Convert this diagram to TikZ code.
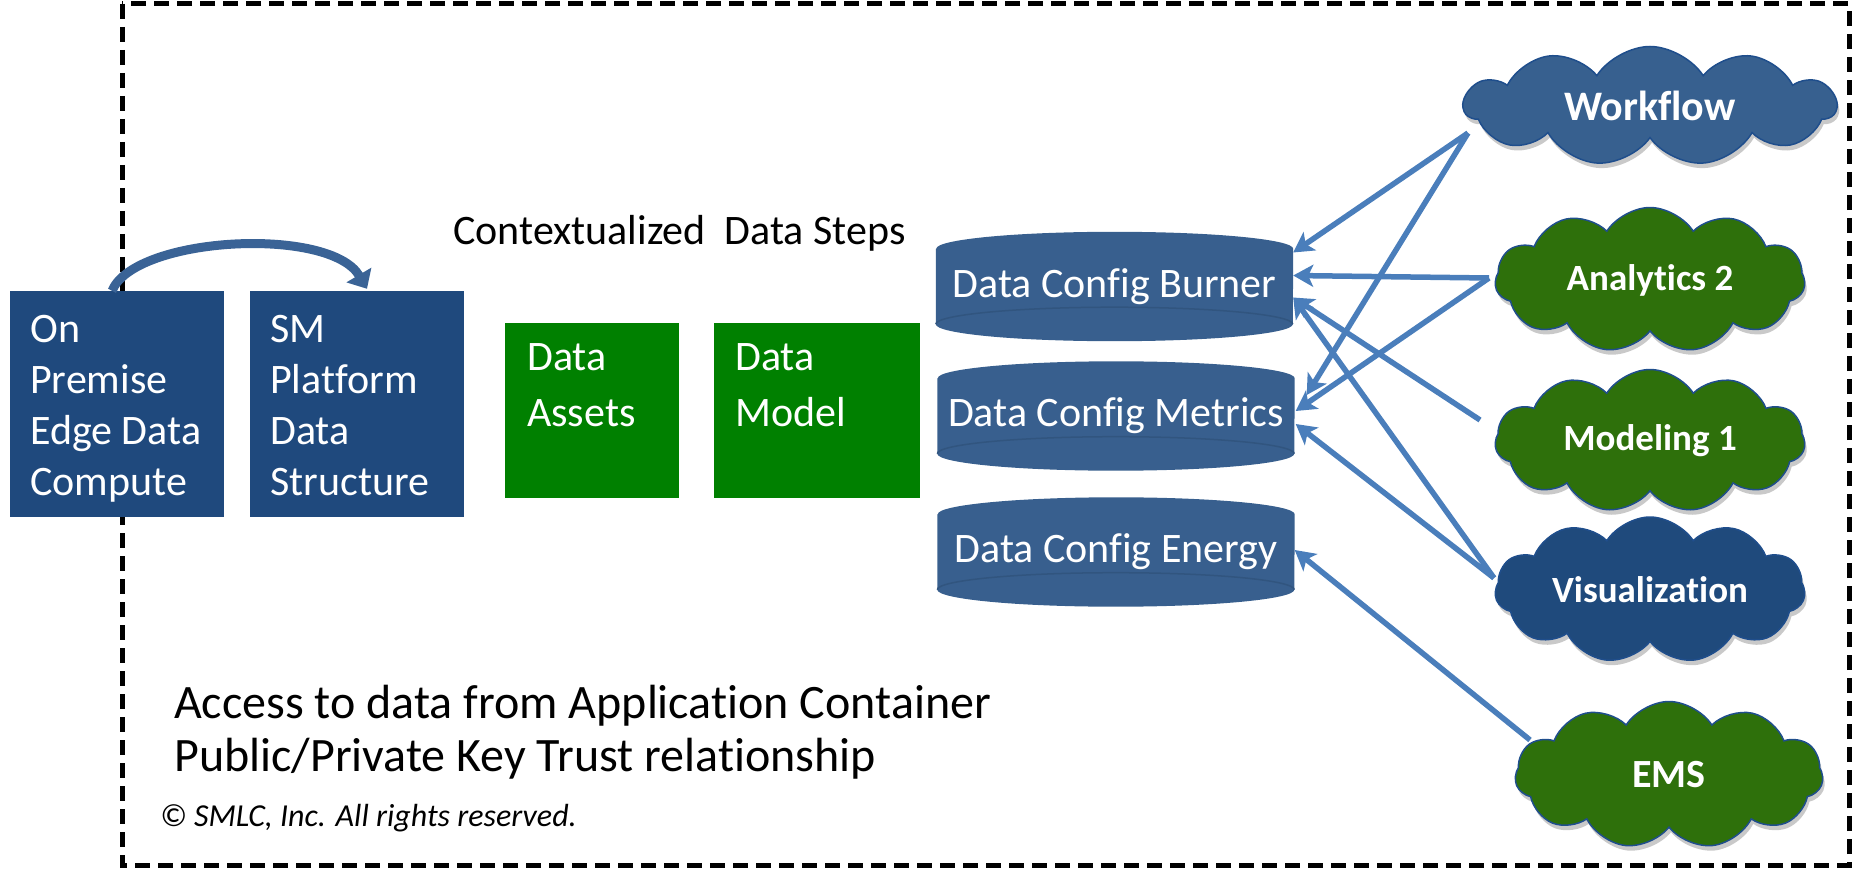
\documentclass[tikz,border=0pt]{standalone}
\usepackage{fontspec}
\setmainfont{Carlito}[Ligatures=CommonOff]
\usetikzlibrary{shapes.symbols,shadows,arrows.meta,calc,backgrounds}
\definecolor{boxblue}{HTML}{1F497D}
\definecolor{cylblue}{HTML}{385F8E}
\definecolor{cylrim}{HTML}{31557F}
\definecolor{cloudblue}{HTML}{37608F}
\definecolor{visblue}{HTML}{1F4A7C}
\definecolor{cloudgreen}{HTML}{2E700B}
\definecolor{cloudedge}{HTML}{1F4E8C}
\definecolor{arrowblue}{HTML}{4A7EBB}
\definecolor{curveblue}{HTML}{3A6396}
\definecolor{boxgreen}{HTML}{008000}
\newcommand\fstrut{\rule{0pt}{32pt}}
\newcommand\gstrut{\rule{0pt}{36pt}}
\newcommand\drawcyl[1]{%
  \fill[cylblue] ($(#1.north west)+(0,17)$) -- ($(#1.south west)+(0,-17)$)
    arc[start angle=180,end angle=0,x radius=178.5,y radius=17]
    -- ($(#1.north east)+(0,17)$)
    arc[start angle=0,end angle=-180,x radius=178.5,y radius=17] -- cycle;
  \draw[cylrim, line width=1.5pt] ($(#1.south west)+(0,-17)$)
    arc[start angle=180,end angle=360,x radius=178.5,y radius=17];}
\begin{document}
\begin{tikzpicture}[x=1pt,y=-1pt,
  bluebox/.style={fill=boxblue, draw=none, minimum width=214pt, minimum height=226pt, inner sep=0pt},
  greenbox/.style={fill=boxgreen, draw=none, minimum height=175pt, inner sep=0pt},
  boxtext/.style={anchor=north west, inner sep=0pt, align=left, text=white, font=\fontsize{42}{51}\selectfont},
  gboxtext/.style={anchor=north west, inner sep=0pt, align=left, text=white, font=\fontsize{42}{56}\selectfont},
  cyl/.style={minimum width=357pt, minimum height=109pt, inner sep=0pt, text=white, font=\fontsize{42}{50}\selectfont},
  cloudnode/.style={cloud, cloud puffs=11, cloud puff arc=115, cloud ignores aspect, draw=cloudedge, line width=1.5pt,
     text=white, inner sep=0pt,
     drop shadow={shadow xshift=2pt, shadow yshift=-5pt, opacity=0.3, fill=black!70}},
  conn/.style={draw=arrowblue, line width=5.5pt, -{Stealth[length=20pt,width=22pt,inset=5pt]}},
  curvearrow/.style={draw=curveblue, line width=9pt, -{Triangle[length=16pt,width=28pt]}},
  border/.style={draw=black, line width=5pt, dash pattern=on 15pt off 8pt}
]
\useasboundingbox (0,0) rectangle (1856,869);
\draw[border] (122,4) rectangle (1849,865);

% left blue boxes
\node[bluebox] (onprem) at (117,404) {};
\node[bluebox] (smplat) at (357,404) {};
\node[boxtext] (onpremtxt) at (30,310) {\fstrut On\\Premise\\Edge Data\\Compute};
\node[boxtext] (smplattxt) at (270,310) {\fstrut SM\\Platform\\Data\\Structure};
\draw[curvearrow] ($(onprem.north)+(-5,0)$) .. controls (135,236) and (330,226) .. ($(smplat.north)+(10,-2)$);

% title
\node[anchor=base west, inner sep=0pt, font=\fontsize{42}{50}\selectfont] (ctx) at (453,245) {Contextualized~~Data Steps};

% green boxes
\node[greenbox, minimum width=174pt] (assets) at (592,410.5) {};
\node[greenbox, minimum width=206pt] (model) at (817,410.5) {};
\node[gboxtext] (assetstxt) at (527,338) {\fstrut Data\\Assets};
\node[gboxtext] (modeltxt) at (735,338) {\fstrut Data\\Model};

% cylinders
\node[cyl] (burner) at (1114.5,286.5) {Data Config Burner};
\node[cyl] (metrics) at (1116,416) {Data Config Metrics};
\node[cyl] (energy) at (1116,552) {Data Config Energy};
\begin{scope}[on background layer]
\drawcyl{burner}
\drawcyl{metrics}
\drawcyl{energy}
\end{scope}

% clouds
\node[cloudnode, fill=cloudblue, minimum width=372pt, minimum height=119pt, font=\bfseries\fontsize{42}{50}\selectfont] (wf) at (1650,106) {Workflow};
\node[cloudnode, fill=cloudgreen, minimum width=310pt, minimum height=145pt, font=\bfseries\fontsize{37}{44}\selectfont] (an) at (1650,280) {Analytics 2};
\node[cloudnode, fill=cloudgreen, minimum width=310pt, minimum height=143pt, font=\bfseries\fontsize{37}{44}\selectfont] (mod) at (1650,441) {Modeling 1};
\node[cloudnode, fill=visblue, minimum width=310pt, minimum height=146pt, font=\bfseries\fontsize{37}{44}\selectfont] (vis) at (1650,590) {Visualization};
\node[cloudnode, fill=cloudgreen, minimum width=308pt, minimum height=147pt, font=\bfseries\fontsize{40}{48}\selectfont] (ems) at (1669,775) {EMS};

% connectors
\draw[conn] ($(wf.center)+(-182,27)$) -- ($(burner.east)+(0,-34)$);
\draw[conn] ($(wf.center)+(-182,27)$) -- ($(metrics.east)+(12,-21)$);
\draw[conn] ($(an.center)+(-161,-2)$) -- ($(burner.east)+(0,-11)$);
\draw[conn] ($(an.center)+(-161,-2)$) -- ($(metrics.east)+(1,-5)$);
\draw[conn] ($(mod.center)+(-170,-21)$) -- ($(burner.east)+(0,11)$);
\draw[conn] ($(vis.center)+(-156,-12)$) -- ($(burner.east)+(0,11)$);
\draw[conn] ($(vis.center)+(-156,-12)$) -- ($(metrics.east)+(1,8)$);
\draw[conn] ($(ems.center)+(-139,-35)$) -- ($(energy.east)+(0,-2)$);

% bottom texts
\node[anchor=north west, inner sep=0pt, align=left, font=\fontsize{48}{53}\selectfont] (access) at (174,682) {\gstrut Access to data from Application Container\\Public/Private Key Trust relationship};
\node[anchor=base west, inner sep=0pt, font=\itshape\fontsize{32}{38}\selectfont] (copyr) at (160,826) {© SMLC, Inc. All rights reserved.};
\end{tikzpicture}
\end{document}
